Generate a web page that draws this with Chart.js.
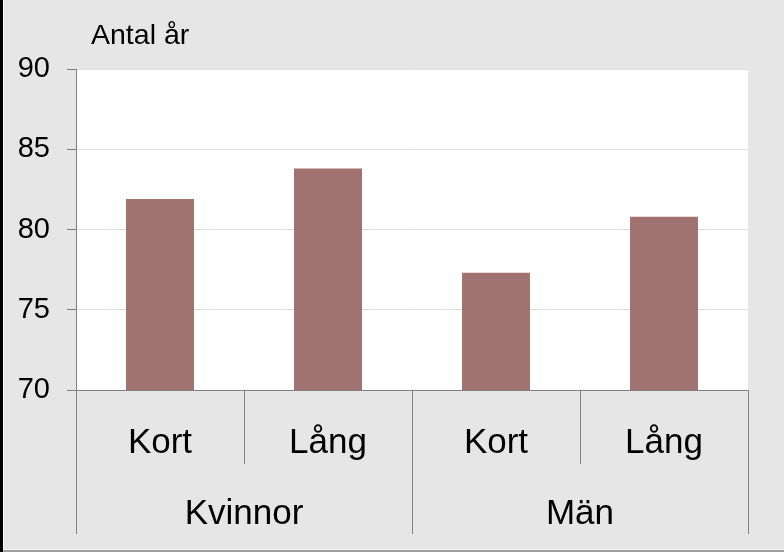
<!DOCTYPE html>
<html>
<head>
<meta charset="utf-8">
<script src="https://cdn.jsdelivr.net/npm/chart.js@4.4.1/dist/chart.umd.min.js"></script>
<style>
  html, body { margin: 0; padding: 0; background: #e6e6e6; }
  #wrap { width: 784px; height: 552px; position: relative; }
</style>
</head>
<body>
<div id="wrap"><canvas id="c" width="784" height="552"></canvas></div>
<script>
const subCategories = ['Kort', 'Lång', 'Kort', 'Lång'];
const groups = ['Kvinnor', 'Män'];
const groupSizes = [2, 2];
const values = [81.9, 83.8, 77.3, 80.8];
const yTicks = [70, 75, 80, 85, 90];
const yTitle = 'Antal år';

const FONT = '"Liberation Sans", Arial, sans-serif';
const AXIS = '#808080';

const decor = {
  id: 'decor',
  beforeDraw(chart) {
    const ctx = chart.ctx;
    ctx.save();
    ctx.fillStyle = '#e6e6e6';
    ctx.fillRect(0, 0, chart.width, chart.height);
    const a = chart.chartArea;
    ctx.fillStyle = '#ffffff';
    ctx.fillRect(a.left, a.top, a.right - a.left, a.bottom - a.top);
    ctx.restore();
  },
  afterDraw(chart) {
    const ctx = chart.ctx;
    const x = chart.scales.x;
    const a = chart.chartArea;
    const n = subCategories.length;
    const w = (a.right - a.left) / n;
    ctx.save();
    ctx.fillStyle = '#000';
    ctx.textAlign = 'center';
    ctx.textBaseline = 'alphabetic';
    ctx.font = '35px ' + FONT;
    subCategories.forEach((s, i) => {
      ctx.fillText(s, x.getPixelForValue(i), 453);
    });
    let start = 0;
    groups.forEach((g, gi) => {
      const size = groupSizes[gi];
      const c = (x.getPixelForValue(start) + x.getPixelForValue(start + size - 1)) / 2;
      ctx.fillText(g, c, 524);
      start += size;
    });
    ctx.strokeStyle = AXIS;
    ctx.lineWidth = 1;
    const groupEdges = new Set([0]);
    let acc = 0;
    groupSizes.forEach(s => { acc += s; groupEdges.add(acc); });
    for (let i = 0; i <= n; i++) {
      const px = Math.round(x.getPixelForValue(i) - w / 2) + 0.5;
      const yEnd = groupEdges.has(i) ? 534 : 464;
      ctx.beginPath();
      ctx.moveTo(px, a.bottom);
      ctx.lineTo(px, yEnd);
      ctx.stroke();
    }
    ctx.textAlign = 'left';
    ctx.font = '28.5px ' + FONT;
    ctx.fillText(yTitle, 91, 44);
    ctx.fillStyle = '#000';
    ctx.fillRect(0, 0, 3, chart.height);
    ctx.fillStyle = '#ffffff';
    ctx.fillRect(3, 0, 1, chart.height);
    ctx.fillStyle = '#f4f4f4';
    ctx.fillRect(3, 549, chart.width - 3, 1);
    ctx.fillStyle = '#a0a0a0';
    ctx.fillRect(3, 550, chart.width - 3, 2);
    ctx.restore();
  }
};

new Chart(document.getElementById('c'), {
  type: 'bar',
  data: {
    labels: subCategories,
    datasets: [{
      data: values,
      backgroundColor: '#a07270',
      borderWidth: 0,
      barPercentage: 0.405,
      categoryPercentage: 1.0
    }]
  },
  options: {
    responsive: false,
    devicePixelRatio: 1,
    animation: false,
    layout: { padding: { top: 69, right: 36, left: 0, bottom: 0 } },
    plugins: { legend: { display: false }, tooltip: { enabled: false } },
    scales: {
      x: {
        grid: { display: false },
        border: { display: false },
        ticks: { display: false },
        afterFit(scale) { scale.height = 162; }
      },
      y: {
        min: yTicks[0],
        max: yTicks[yTicks.length - 1],
        afterBuildTicks(scale) { scale.ticks = yTicks.map(v => ({ value: v })); },
        ticks: {
          color: '#000',
          font: { family: FONT, size: 29 },
          padding: 17
        },
        grid: {
          tickLength: 9,
          tickColor: AXIS,
          color: ctx => (ctx.tick && ctx.tick.value === yTicks[0]) ? AXIS : '#dedede',
          lineWidth: 1
        },
        border: { display: true, color: AXIS, width: 1 },
        afterFit(scale) { scale.width = 76; }
      }
    }
  },
  plugins: [decor]
});
</script>
</body>
</html>
